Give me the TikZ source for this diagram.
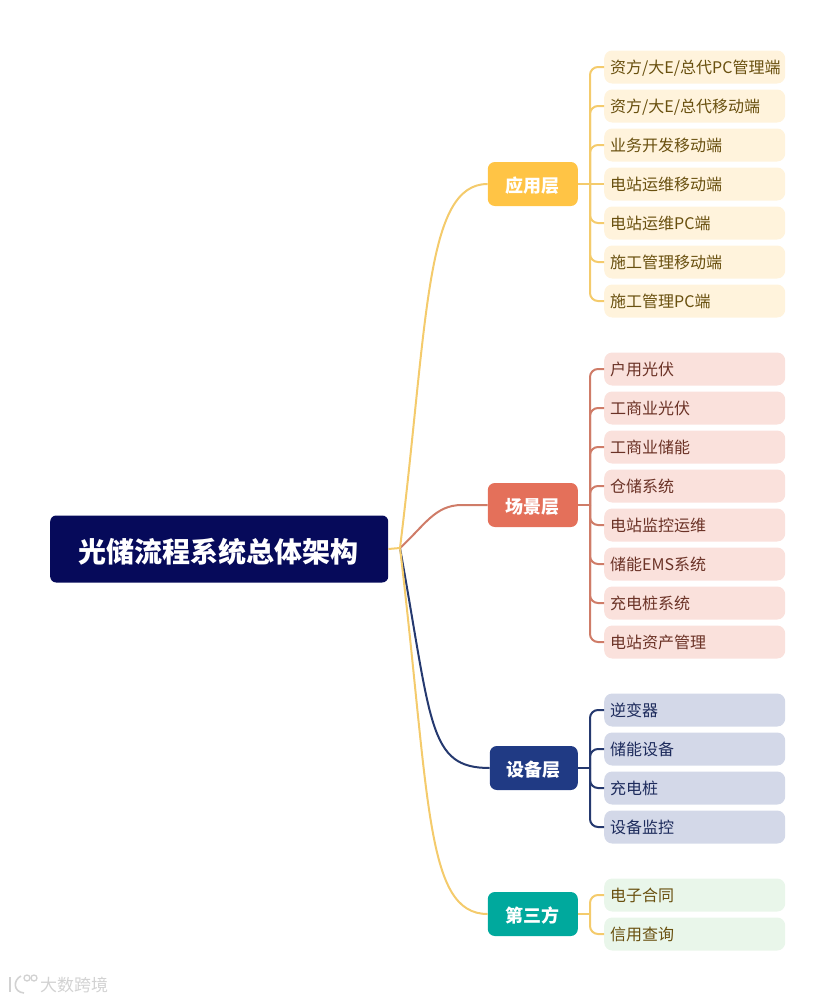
\documentclass[tikz,border=0pt]{standalone}
\usepackage{fontspec}
\setmainfont{Noto Sans CJK SC}
\usepackage{xcolor}
\usetikzlibrary{positioning}
\definecolor{RootNavy}{HTML}{060A5A}
\definecolor{AppGold}{HTML}{FFC445}
\definecolor{AppLine}{HTML}{F4CB6C}
\definecolor{AppLeaf}{HTML}{FFF3DC}
\definecolor{AppText}{HTML}{69500F}
\definecolor{SceneRed}{HTML}{E4705A}
\definecolor{SceneLine}{HTML}{CF7C68}
\definecolor{SceneLeaf}{HTML}{FAE1DC}
\definecolor{SceneText}{HTML}{6B3226}
\definecolor{DeviceBlue}{HTML}{203A84}
\definecolor{DeviceLine}{HTML}{25396F}
\definecolor{DeviceLeaf}{HTML}{D3D8E8}
\definecolor{DeviceText}{HTML}{1D2B5C}
\definecolor{ThirdTeal}{HTML}{00A99D}
\definecolor{ThirdLeaf}{HTML}{E9F6EA}
\definecolor{MarkGrey}{HTML}{D2D2D2}
\tikzset{
  rootbox/.style={anchor=west,fill=RootNavy,text=white,rounded corners=6pt,
    minimum width=338pt,minimum height=67pt,inner sep=0pt,
    text height=29pt,text depth=3pt,
    font=\bfseries\fontsize{28}{32}\selectfont},
  groupbox/.style={anchor=east,text=white,rounded corners=7pt,
    minimum width=90pt,minimum height=44pt,inner sep=0pt,
    text height=19pt,text depth=2pt,
    font=\bfseries\fontsize{18}{22}\selectfont},
  leafbox/.style={anchor=west,rounded corners=8pt,text width=169pt,
    inner xsep=6pt,inner ysep=0pt,minimum height=33pt,align=left,
    text height=15pt,text depth=2pt,font=\fontsize{16}{19}\selectfont},
  appleaf/.style={leafbox,fill=AppLeaf,text=AppText},
  sceneleaf/.style={leafbox,fill=SceneLeaf,text=SceneText},
  deviceleaf/.style={leafbox,fill=DeviceLeaf,text=DeviceText},
  thirdleaf/.style={leafbox,fill=ThirdLeaf,text=AppText},
  trunk/.style={line width=2pt},
  twig/.style={line width=2pt,rounded corners=8pt},
}
\begin{document}
\begin{tikzpicture}[x=1pt,y=-1pt]
        \useasboundingbox (0,0) rectangle (835,1001);

        \node[rootbox] (root) at (50,549) {\hspace*{-1pt}光储流程系统总体架构};
        \coordinate (hub) at (400,548);

        \node[groupbox,fill=AppGold] (appgroup) at (578,184) {应用层};
        \node[groupbox,fill=SceneRed] (scenegroup) at (578,505) {场景层};
        \node[groupbox,fill=DeviceBlue,minimum width=88pt] (devicegroup) at (578,768) {设备层};
        \node[groupbox,fill=ThirdTeal] (thirdgroup) at (578,914) {第三方};

        % first layer leaves
        \node[appleaf] (app1) at (604,67) {资方/大E/总代PC管理端};
        \node[appleaf] (app2) at (604,106) {资方/大E/总代移动端};
        \node[appleaf] (app3) at (604,145) {业务开发移动端};
        \node[appleaf] (app4) at (604,184) {电站运维移动端};
        \node[appleaf] (app5) at (604,223) {电站运维PC端};
        \node[appleaf] (app6) at (604,262) {施工管理移动端};
        \node[appleaf] (app7) at (604,301) {施工管理PC端};

        % second layer leaves
        \node[sceneleaf] (scene1) at (604,369) {户用光伏};
        \node[sceneleaf] (scene2) at (604,408) {工商业光伏};
        \node[sceneleaf] (scene3) at (604,447) {工商业储能};
        \node[sceneleaf] (scene4) at (604,486) {仓储系统};
        \node[sceneleaf] (scene5) at (604,525) {电站监控运维};
        \node[sceneleaf] (scene6) at (604,564) {储能EMS系统};
        \node[sceneleaf] (scene7) at (604,603) {充电桩系统};
        \node[sceneleaf] (scene8) at (604,642) {电站资产管理};

        % third layer leaves
        \node[deviceleaf] (device1) at (604,710) {逆变器};
        \node[deviceleaf] (device2) at (604,749) {储能设备};
        \node[deviceleaf] (device3) at (604,788) {充电桩};
        \node[deviceleaf] (device4) at (604,827) {设备监控};

        \node[thirdleaf] (third1) at (604,895) {电子合同};
        \node[thirdleaf] (third2) at (604,934) {信用查询};

        % trunks from the root
        \draw[trunk,DeviceLine] (hub) .. controls (432,725) and (428,768) .. (devicegroup.west);
        \draw[trunk,AppLine] (hub) .. controls (430,800) and (425,914) .. (thirdgroup.west);
        \draw[trunk,SceneLine] (hub) .. controls (425,525) and (435,505) .. (462,505) -- (scenegroup.west);
        \draw[trunk,AppLine] (hub) .. controls (428,320) and (425,184) .. (appgroup.west);
        \draw[trunk,AppLine] (root.east) -- (hub);

        % twigs
        \coordinate (appbus) at (590,184);
        \draw[trunk,AppLine] (appgroup.east) -- (app4.west);
        \draw[twig,AppLine] (appbus) |- (app1.west);
        \draw[twig,AppLine] (appbus) |- (app2.west);
        \draw[twig,AppLine] (appbus) |- (app3.west);
        \draw[twig,AppLine] (appbus) |- (app5.west);
        \draw[twig,AppLine] (appbus) |- (app6.west);
        \draw[twig,AppLine] (appbus) |- (app7.west);

        \coordinate (scenebus) at (590,505);
        \draw[trunk,SceneLine] (scenegroup.east) -- (scenebus);
        \draw[twig,SceneLine] (scenebus) |- (scene1.west);
        \draw[twig,SceneLine] (scenebus) |- (scene2.west);
        \draw[twig,SceneLine] (scenebus) |- (scene3.west);
        \draw[twig,SceneLine] (scenebus) |- (scene4.west);
        \draw[twig,SceneLine] (scenebus) |- (scene5.west);
        \draw[twig,SceneLine] (scenebus) |- (scene6.west);
        \draw[twig,SceneLine] (scenebus) |- (scene7.west);
        \draw[twig,SceneLine] (scenebus) |- (scene8.west);

        \coordinate (devicebus) at (590,768);
        \draw[trunk,DeviceLine] (devicegroup.east) -- (devicebus);
        \draw[twig,DeviceLine] (devicebus) |- (device1.west);
        \draw[twig,DeviceLine] (devicebus) |- (device2.west);
        \draw[twig,DeviceLine] (devicebus) |- (device3.west);
        \draw[twig,DeviceLine] (devicebus) |- (device4.west);

        \coordinate (thirdbus) at (590,914);
        \draw[trunk,AppLine] (thirdgroup.east) -- (thirdbus);
        \draw[twig,AppLine] (thirdbus) |- (third1.west);
        \draw[twig,AppLine] (thirdbus) |- (third2.west);

        % watermark
        \node[anchor=west,text=MarkGrey,inner sep=0pt,
          font=\fontsize{17}{20}\selectfont] (mark) at (40,985) {大数跨境};
        \draw[MarkGrey,line width=1.6pt] (10,977) -- (10,992);
        \draw[MarkGrey,line width=1.6pt] (21,976) .. controls (13,980) and (13,992) .. (24,993);
        \draw[MarkGrey,line width=1.3pt] (27,978) circle (3pt);
        \draw[MarkGrey,line width=1.3pt] (34,978) circle (3pt);
      \end{tikzpicture}
\end{document}
